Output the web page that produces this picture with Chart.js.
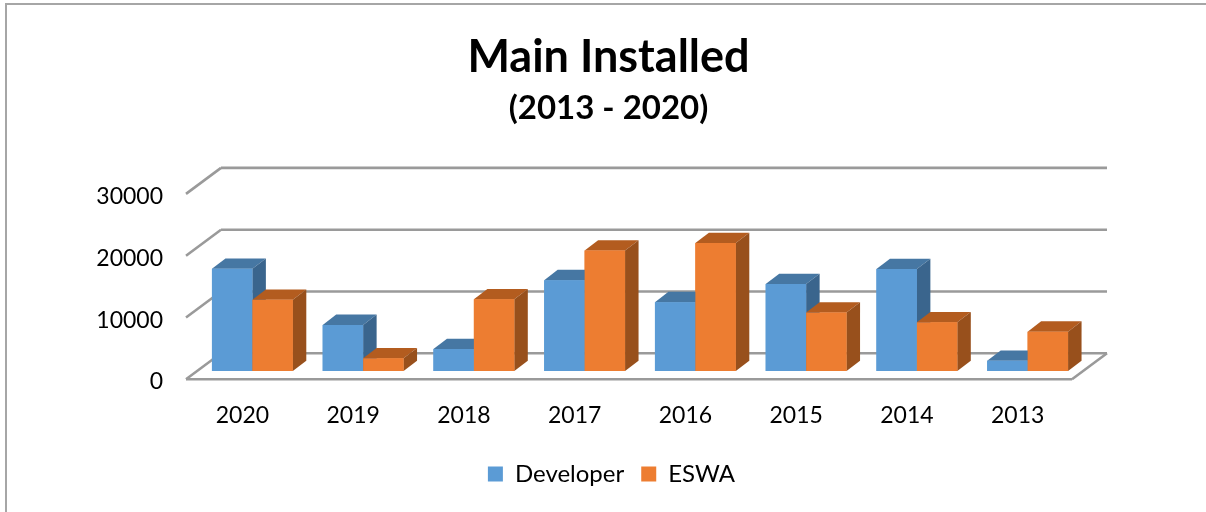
<!DOCTYPE html>
<html lang="en">
<head>
<meta charset="UTF-8" />
<title>Main Installed</title>
<style>
  html, body { margin: 0; background: #fff; }
  canvas { display: block; }
</style>
<script src="https://cdn.jsdelivr.net/npm/chart.js"></script>
</head>
<body>
<canvas id="installedChart" width="1206" height="512"></canvas>
<script>
  const years = ['2020', '2019', '2018', '2017', '2016', '2015', '2014', '2013'];
  const developer = [16540, 7460, 3570, 14700, 11140, 14060, 16490, 1670];
  const eswa = [11510, 2060, 11620, 19500, 20700, 9450, 7900, 6370];

  const FONT = 'Lato, Carlito, sans-serif';
  const GRID = '#9a9a9a';

  // fake 3d: side + top face behind each bar
  const barDepth = { x: 13.5, y: 10.3 };
  const floorFront = { x: -11, y: 8.3 };
  const floorBack = { x: 24, y: -17.7 };

  const faces = [
    { top: '#4677a3', side: '#3a658d' },
    { top: '#b35c1f', side: '#98501c' }
  ];

  function poly(ctx, pts, color) {
    ctx.fillStyle = color;
    ctx.beginPath();
    pts.forEach((p, i) => i ? ctx.lineTo(p[0], p[1]) : ctx.moveTo(p[0], p[1]));
    ctx.closePath();
    ctx.fill();
  }

  function line(ctx, x1, y1, x2, y2) {
    ctx.beginPath();
    ctx.moveTo(x1, y1);
    ctx.lineTo(x2, y2);
    ctx.stroke();
  }

  const frame = {
    id: 'frame',
    afterLayout(chart) {
      // legend sits a little right of the title in the original
      chart.legend.left += 3;
      chart.legend.right += 3;
    },
    beforeDraw(chart) {
      const ctx = chart.ctx;
      ctx.save();
      ctx.strokeStyle = '#a6a6a6';
      ctx.lineWidth = 2;
      line(ctx, 1206, 4, 6, 4);
      line(ctx, 6, 3, 6, 512);
      ctx.restore();
    }
  };

  const walls = {
    id: 'walls',
    beforeDatasetsDraw(chart) {
      const ctx = chart.ctx;
      const y = chart.scales.y;
      const { left, right } = chart.chartArea;
      ctx.save();
      ctx.strokeStyle = GRID;
      ctx.lineWidth = 2.6;
      y.ticks.forEach(t => {
        const py = y.getPixelForValue(t.value);
        line(ctx, left + floorFront.x, py + floorFront.y, left + floorBack.x, py + floorBack.y);
        line(ctx, left + floorBack.x, py + floorBack.y, right + floorBack.x, py + floorBack.y);
      });
      const base = y.getPixelForValue(0);
      line(ctx, left + floorFront.x, base + floorFront.y, right + floorFront.x, base + floorFront.y);
      line(ctx, right + floorFront.x, base + floorFront.y, right + floorBack.x, base + floorBack.y);
      ctx.restore();
    }
  };

  const bars3d = {
    id: 'bars3d',
    afterDatasetsDraw(chart) {
      const ctx = chart.ctx;
      // blue first so the orange sits in front of it
      chart.data.datasets.forEach((ds, d) => {
        const meta = chart.getDatasetMeta(d);
        meta.data.forEach(bar => {
          const { x, y, base, width } = bar.getProps(['x', 'y', 'base', 'width'], true);
          const l = x - width / 2, r = x + width / 2;
          poly(ctx, [[l, y], [l + barDepth.x, y - barDepth.y], [r + barDepth.x, y - barDepth.y], [r, y]], faces[d].top);
          poly(ctx, [[r, y], [r + barDepth.x, y - barDepth.y], [r + barDepth.x, base - barDepth.y], [r, base]], faces[d].side);
          bar.draw(ctx);
        });
      });
    }
  };

  new Chart(document.getElementById('installedChart'), {
    type: 'bar',
    data: {
      labels: years,
      datasets: [
        { label: 'Developer', data: developer, backgroundColor: '#5b9bd5', borderWidth: 0 },
        { label: 'ESWA', data: eswa, backgroundColor: '#ed7d31', borderWidth: 0 }
      ]
    },
    options: {
      responsive: false,
      animation: false,
      events: [],
      layout: { padding: { left: 11, right: 0, top: 0, bottom: 16 } },
      categoryPercentage: 0.73,
      barPercentage: 1,
      scales: {
        x: {
          grid: { display: false },
          border: { display: false },
          ticks: { color: '#000', font: { family: FONT, size: 23 }, labelOffset: -10, padding: 23, maxRotation: 0 },
          afterFit(s) { s.height = 74; }
        },
        y: {
          min: 0,
          max: 30000,
          grid: { display: false },
          border: { display: false },
          ticks: {
            stepSize: 10000,
            color: '#000',
            font: { family: FONT, size: 23 },
            labelOffset: 11,
            padding: 26,
            callback: v => String(v)
          },
          afterFit(s) { s.width = 186; }
        },
        // empty axis, only keeps the plot clear of the right side
        rightPad: {
          position: 'right',
          grid: { display: false },
          border: { display: false },
          ticks: { display: false },
          afterFit(s) { s.width = 123; }
        }
      },
      plugins: {
        tooltip: { enabled: false },
        title: {
          display: true,
          text: 'Main Installed',
          color: '#000',
          font: { family: FONT, size: 45, weight: 'bold' },
          padding: { top: 30, bottom: 5 }
        },
        subtitle: {
          display: true,
          text: '(2013 - 2020)',
          color: '#000',
          font: { family: FONT, size: 33, weight: 'bold' },
          padding: { top: 0, bottom: 57 }
        },
        legend: {
          position: 'bottom',
          labels: {
            color: '#000',
            font: { family: FONT, size: 24 },
            boxWidth: 15,
            boxHeight: 15,
            padding: 17
          }
        }
      }
    },
    plugins: [frame, walls, bars3d]
  });
</script>
</body>
</html>
